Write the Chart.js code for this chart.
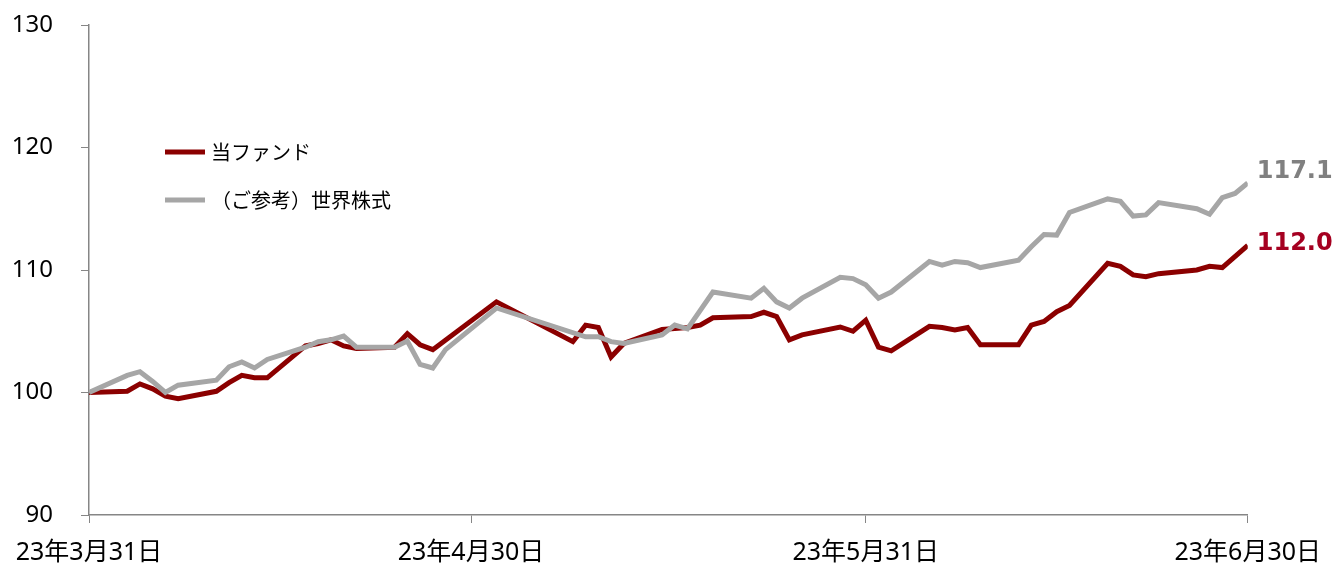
<!DOCTYPE html>
<html>
<head>
<meta charset="utf-8">
<script src="https://cdn.jsdelivr.net/npm/chart.js@4.4.0/dist/chart.umd.min.js"></script>
<style>
  body { margin: 0; background: #fff; }
  #wrap { width: 1336px; height: 565px; }
</style>
</head>
<body>
<div id="wrap"><canvas id="myChart" width="1336" height="565"></canvas></div>
<script>
// dates (2023, MM-DD) of each point
const dates = [
  "03-31", "04-03", "04-04", "04-05", "04-06", "04-07", "04-10", "04-11", "04-12", "04-13",
  "04-14", "04-17", "04-18", "04-19", "04-20", "04-21", "04-24", "04-25", "04-26", "04-27",
  "04-28", "05-02", "05-08", "05-09", "05-10", "05-11", "05-12", "05-15", "05-16", "05-17",
  "05-18", "05-19", "05-22", "05-23", "05-24", "05-25", "05-26", "05-29", "05-30", "05-31",
  "06-01", "06-02", "06-05", "06-06", "06-07", "06-08", "06-09", "06-12", "06-13", "06-14",
  "06-15", "06-16", "06-19", "06-20", "06-21", "06-22", "06-23", "06-26", "06-27", "06-28",
  "06-29", "06-30"
];

// 当ファンド
const fundValues = [
  100.0, 100.1, 100.7, 100.3, 99.7, 99.5, 100.1, 100.8, 101.4, 101.2,
  101.2, 103.8, 104.0, 104.3, 103.8, 103.6, 103.7, 104.8, 103.9, 103.5,
  null, 107.4, 104.15, 105.5, 105.3, 102.9, 104.0, 105.15, null, 105.3,
  105.5, 106.1, 106.2, 106.55, 106.2, 104.3, 104.7, 105.35, 105.0, 105.9,
  103.7, 103.4, 105.4, 105.3, 105.1, 105.3, 103.9, 103.9, 105.5, 105.8,
  106.6, 107.1, 110.55, 110.3, 109.6, 109.45, 109.7, 110.0, 110.3, 110.2,
  null, 112.0
];

// （ご参考）世界株式
const worldValues = [
  100.0, 101.4, 101.7, 100.9, 100.0, 100.6, 101.0, 102.1, 102.5, 102.0,
  102.7, 103.7, 104.15, 104.3, 104.6, 103.7, 103.7, 104.2, 102.3, 102.0,
  103.5, 106.9, null, 104.55, 104.55, 104.15, 104.0, 104.7, 105.5, 105.2,
  null, 108.2, 107.7, 108.5, 107.4, 106.9, 107.7, 109.4, 109.3, 108.8,
  107.7, 108.2, 110.7, 110.4, 110.7, 110.6, 110.2, 110.8, 111.9, 112.9,
  112.85, 114.7, 115.8, 115.6, 114.4, 114.5, 115.5, 115.0, 114.55, 115.9,
  116.25, 117.1
];

const tickDates = ["03-31", "04-30", "05-31", "06-30"];
const tickLabels = ["23年3月31日", "23年4月30日", "23年5月31日", "23年6月30日"];
const seriesNames = ["当ファンド", "（ご参考）世界株式"];

// days since 2023-03-31
function dayOf(md) {
  const [m, d] = md.split("-").map(Number);
  return (Date.UTC(2023, m - 1, d) - Date.UTC(2023, 2, 31)) / 86400000;
}
const xs = dates.map(dayOf);
const tickDays = tickDates.map(dayOf);

const toPoints = (vals) => vals.map((v, i) => ({ x: xs[i], y: v }));

const jpFont = "'Noto Sans CJK JP', 'Noto Sans', sans-serif";
const tickFont = "'Noto Sans', 'Noto Sans CJK JP', sans-serif";
const axisColor = "#868686";

// legend drawn inside the plot area, top-left
const innerLegend = {
  id: "innerLegend",
  afterDraw(chart) {
    const c = chart.ctx;
    const rows = [152, 200];
    chart.data.datasets.forEach((ds, i) => {
      const y = rows[i];
      c.save();
      c.strokeStyle = ds.borderColor;
      c.lineWidth = 5;
      c.beginPath();
      c.moveTo(165, y);
      c.lineTo(205, y);
      c.stroke();
      c.fillStyle = "#000";
      c.font = "20px " + jpFont;
      c.textAlign = "left";
      c.textBaseline = "middle";
      c.fillText(ds.label, 211, y);
      c.restore();
    });
  }
};

// value labels at the end of each line
const endLabels = {
  id: "endLabels",
  afterDatasetsDraw(chart) {
    const c = chart.ctx;
    const colors = ["#a50021", "#808080"];
    const offsets = [-2, -11];
    chart.data.datasets.forEach((ds, i) => {
      const pts = chart.getDatasetMeta(i).data;
      const last = pts[pts.length - 1];
      const v = ds.data[ds.data.length - 1].y;
      c.save();
      c.fillStyle = colors[i];
      c.font = "bold 24px 'DejaVu Sans', Verdana, sans-serif";
      c.textAlign = "left";
      c.textBaseline = "middle";
      c.fillText(v.toFixed(1), last.x + 9, last.y + offsets[i]);
      c.restore();
    });
  }
};

let ctx = document.getElementById("myChart").getContext("2d");

var myChart = new Chart(ctx, {
  type: "line",
  data: {
    datasets: [
      {
        label: seriesNames[0],
        data: toPoints(fundValues),
        borderColor: "#8b0000",
        borderWidth: 5,
        pointRadius: 0,
        spanGaps: true,
        order: 1,
      },
      {
        label: seriesNames[1],
        data: toPoints(worldValues),
        borderColor: "#a6a6a6",
        borderWidth: 5,
        pointRadius: 0,
        spanGaps: true,
        order: 0,
      },
    ],
  },
  options: {
    responsive: false,
    animation: false,
    layout: { padding: { left: 0, right: 88, top: 25, bottom: 0 } },
    plugins: {
      legend: { display: false },
      tooltip: { enabled: false },
    },
    scales: {
      x: {
        type: "linear",
        min: tickDays[0],
        max: tickDays[tickDays.length - 1],
        afterBuildTicks: (axis) => {
          axis.ticks = tickDays.map((d) => ({ value: d }));
        },
        afterFit: (axis) => { axis.height = 50; },
        ticks: {
          autoSkip: false,
          maxRotation: 0,
          padding: 15,
          color: "#000",
          font: { family: tickFont, size: 25 },
          callback: (v) => tickLabels[tickDays.indexOf(v)],
        },
        grid: { drawOnChartArea: false, tickLength: 8, color: axisColor },
        border: { color: axisColor, width: 1.5 },
      },
      y: {
        min: 90,
        max: 130,
        afterFit: (axis) => {
          axis.width = 89;
          // keep the label padding from pushing the plot down
          axis.paddingTop = 0;
          axis.paddingBottom = 0;
        },
        ticks: {
          stepSize: 10,
          padding: 28,
          color: "#000",
          font: { family: tickFont, size: 24 },
        },
        grid: { drawOnChartArea: false, tickLength: 8, color: axisColor },
        border: { color: axisColor, width: 1.5 },
      },
    },
  },
  plugins: [innerLegend, endLabels],
});
</script>
</body>
</html>
